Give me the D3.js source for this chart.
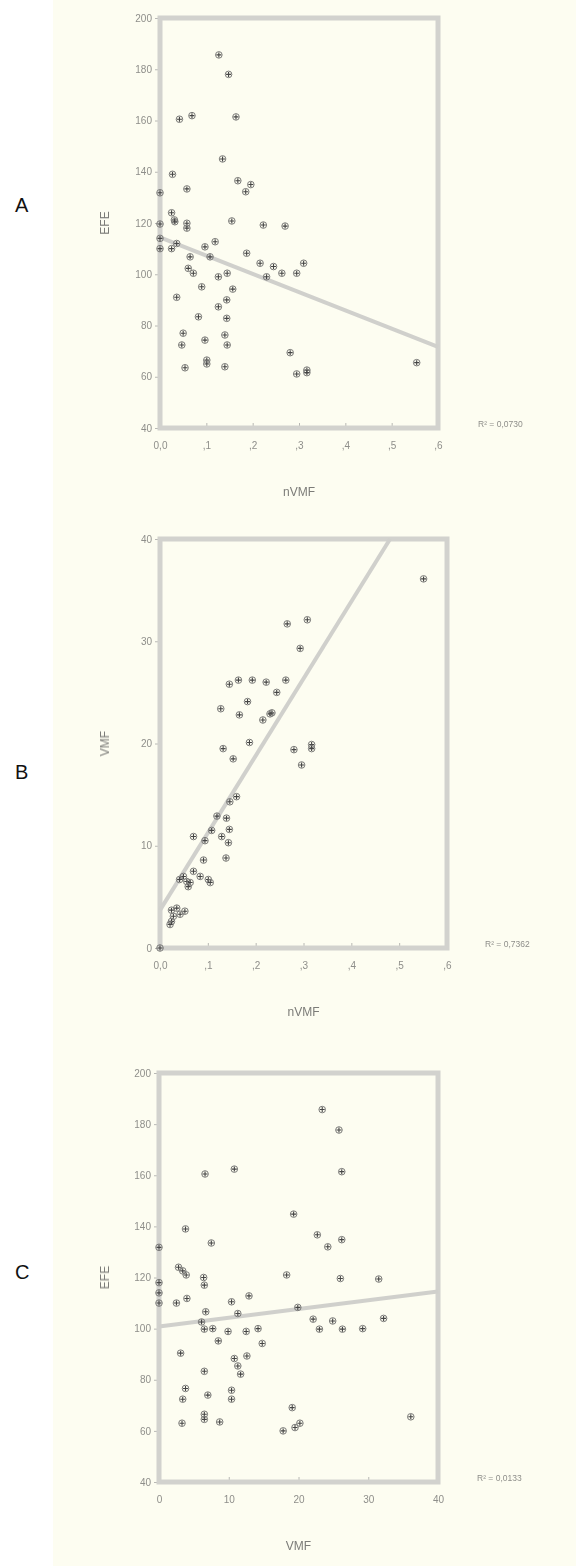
<!DOCTYPE html>
<meta charset="utf-8">
<style>
 body { margin: 0; background: #fff; }
 svg { font-family: "Liberation Sans", Arial, sans-serif; }
 .axis text { fill: #8e8e8a; font-size: 10px; }
 .axis line { stroke: #b8b8b4; }
 .axis path { display: none; }
 .title { fill: #7c7c78; font-size: 12px; }
 .rsq { fill: #8e8e8a; font-size: 8.5px; }
</style>
<body>
<svg width="576" height="1566"></svg>
</body>
<script src="https://cdn.jsdelivr.net/npm/d3@7"></script>
<script>

 // Panel A: EFE against nVMF
 var pointsA = [
   [.127,185.6],[.148,178],[.042,160.5],[.069,161.9],[.164,161.4],[.135,145],
   [.027,139],[0,131.8],[.058,133.3],[.168,136.5],[.196,135],[.185,132.2],
   [.025,124],[.031,121.2],[.058,119.9],[.155,120.8],[.223,119.2],[.27,118.8],
   [0,119.6],[.032,120.5],[.058,118],[0,114],[0,110],[.025,110],[.036,112],
   [.097,110.7],[.119,112.7],[.108,106.8],[.065,106.8],[.187,108.2],[.061,102.3],
   [.072,100.4],[.126,99],[.145,100.4],[.216,104.3],[.245,103],[.23,99],
   [.263,100.4],[.295,100.4],[.31,104.3],[.09,95.1],[.157,94.2],[.036,91],
   [.144,90],[.126,87.3],[.144,82.8],[.083,83.4],[.05,77],[.14,76.3],[.047,72.4],
   [.097,74.3],[.145,72.4],[.281,69.4],[.101,66.5],[.101,65],[.054,63.5],
   [.14,63.9],[.295,61.1],[.317,62.6],[.317,61.6],[.554,65.5]
 ];
 var lineA = [[0,114.4],[0.6,71.7]];

 // Panel B: VMF against nVMF
 var pointsB = [
   [.551,36.1],[.266,31.7],[.308,32.1],[.293,29.3],[.145,25.8],[.164,26.2],
   [.193,26.2],[.222,26],[.263,26.2],[.244,25],[.183,24.1],[.127,23.4],
   [.166,22.8],[.234,23],[.23,22.9],[.215,22.3],[.187,20.1],[.132,19.5],
   [.153,18.5],[.28,19.4],[.317,19.9],[.317,19.5],[.296,17.9],[.16,14.8],
   [.146,14.3],[.119,12.9],[.139,12.7],[.108,11.5],[.145,11.6],[.129,10.9],
   [.07,10.9],[.094,10.5],[.143,10.3],[.138,8.8],[.091,8.6],[.07,7.5],
   [.049,7],[.056,6.5],[.041,6.7],[.063,6.4],[.084,7],[.101,6.7],[.105,6.4],
   [.059,6],[.024,3.7],[.035,3.9],[.052,3.6],[.042,3.3],[.028,3.1],[.024,2.6],
   [.021,2.3],[0,0]
 ];
 var lineB = [[0,3.7],[0.481,40]];

 // Panel C: EFE against VMF
 var pointsC = [
   [23.4,185.7],[25.8,177.7],[6.6,160.5],[10.8,162.4],[26.2,161.4],[19.3,144.8],
   [3.8,139],[0,131.8],[7.5,133.5],[22.7,136.7],[26.2,134.8],[24.2,132],
   [2.8,124],[3.4,122.6],[3.9,121],[6.4,120],[18.3,121],[26,119.6],[31.5,119.4],
   [6.5,117],[0,118],[0,114],[0,110],[2.5,110],[4,111.8],[10.4,110.5],
   [12.9,112.8],[11.3,105.9],[6.7,106.6],[19.9,108.3],[6.1,102.6],[6.5,99.8],
   [7.7,100],[9.9,98.9],[12.5,98.9],[14.2,100],[22.1,103.7],[23,99.8],[24.9,103],
   [26.3,99.8],[29.2,100],[32.2,104],[8.5,95.2],[14.8,94.2],[3.1,90.4],
   [12.6,89.3],[10.8,88.3],[11.3,85.4],[11.7,82.2],[6.5,83.3],[3.8,76.6],
   [10.4,75.9],[3.4,72.4],[7,74],[10.4,72.4],[19.1,69.1],[6.5,66.5],[6.5,64.5],
   [3.3,63],[8.7,63.5],[17.8,60],[19.5,61.3],[20.2,63],[36.1,65.5]
 ];
 var lineC = [[0,100.8],[40,114.5]];

 var efeTicks = [40,60,80,100,120,140,160,180,200];
 var vmfTicks = [0,10,20,30,40];
 var nvmfTicks = [0,.1,.2,.3,.4,.5,.6];
 var nvmfLabels = ["0,0",",1",",2",",3",",4",",5",",6"];
 var rsqLabels = ["R\u00b2 = 0,0730","R\u00b2 = 0,7362","R\u00b2 = 0,0133"];

 var panels = [
   { letter: "A", pts: pointsA, line: lineA, xd: [0,.6], yd: [40,200],
     xt: nvmfTicks, xl: nvmfLabels, yt: efeTicks, xtitle: "nVMF", ytitle: "EFE",
     left: 160, right: 438, top: 18, bottom: 428, letterY: 212, rsqX: 478, rsq: rsqLabels[0] },
   { letter: "B", pts: pointsB, line: lineB, xd: [0,.6], yd: [0,40],
     xt: nvmfTicks, xl: nvmfLabels, yt: vmfTicks, xtitle: "nVMF", ytitle: "VMF",
     left: 160, right: 447, top: 539, bottom: 948, letterY: 779, rsqX: 485, rsq: rsqLabels[1] },
   { letter: "C", pts: pointsC, line: lineC, xd: [0,40], yd: [40,200],
     xt: vmfTicks, xl: vmfTicks.map(String), yt: efeTicks, xtitle: "VMF", ytitle: "EFE",
     left: 159, right: 438, top: 1073, bottom: 1482, letterY: 1279, rsqX: 477, rsq: rsqLabels[2] }
 ];

 var svg = d3.select("svg");
 // the scan is soft, so blur a little
 svg.append("defs").append("filter").attr("id", "soft")
    .append("feGaussianBlur").attr("stdDeviation", 0.6);
 svg.append("rect").attr("x", 53).attr("y", 0).attr("width", 523).attr("height", 1566)
    .attr("fill", "#fdfdf1");

 panels.forEach(function(p) {
   var x = d3.scaleLinear().domain(p.xd).range([p.left, p.right]);
   var y = d3.scaleLinear().domain(p.yd).range([p.bottom, p.top]);

   svg.append("text").attr("x", 15).attr("y", p.letterY)
    .style("font-size", "20px").style("fill", "#111").text(p.letter);

   var g = svg.append("g").attr("filter", "url(#soft)");

   g.append("g").attr("class", "axis")
    .attr("transform", "translate(" + p.left + ",0)")
    .call(d3.axisLeft(y).tickValues(p.yt).tickSize(5).tickPadding(3));
   g.append("g").attr("class", "axis")
    .attr("transform", "translate(0," + p.bottom + ")")
    .call(d3.axisBottom(x).tickValues(p.xt).tickSize(-5).tickPadding(14)
          .tickFormat(function(d, i) { return p.xl[i]; }));

   g.append("rect").attr("x", p.left).attr("y", p.top)
    .attr("width", p.right - p.left).attr("height", p.bottom - p.top)
    .attr("fill", "none").attr("stroke", "#d2d2ce").attr("stroke-width", 5);

   g.append("line")
    .attr("x1", x(p.line[0][0])).attr("y1", y(p.line[0][1]))
    .attr("x2", x(p.line[1][0])).attr("y2", y(p.line[1][1]))
    .attr("stroke", "#d0d0cc").attr("stroke-width", 4);

   var m = g.selectAll(".pt").data(p.pts).enter().append("g")
    .attr("transform", function(d) { return "translate(" + x(d[0]) + "," + y(d[1]) + ")"; });
   m.append("circle").attr("r", 3.3).attr("fill", "none")
    .attr("stroke", "#7a7a78").attr("stroke-width", 1);
   m.append("path").attr("d", "M-2.5,0H2.5M0,-2.5V2.5")
    .attr("stroke", "#444").attr("stroke-width", 1.1);

   g.append("text").attr("class", "title")
    .attr("transform", "translate(109," + ((p.top + p.bottom) / 2) + ") rotate(-90)")
    .attr("text-anchor", "middle").text(p.ytitle);
   g.append("text").attr("class", "title")
    .attr("x", (p.left + p.right) / 2).attr("y", p.bottom + 68)
    .attr("text-anchor", "middle").text(p.xtitle);
   g.append("text").attr("class", "rsq")
    .attr("x", p.rsqX).attr("y", p.bottom - 1).text(p.rsq);
 });

</script>
</html>
